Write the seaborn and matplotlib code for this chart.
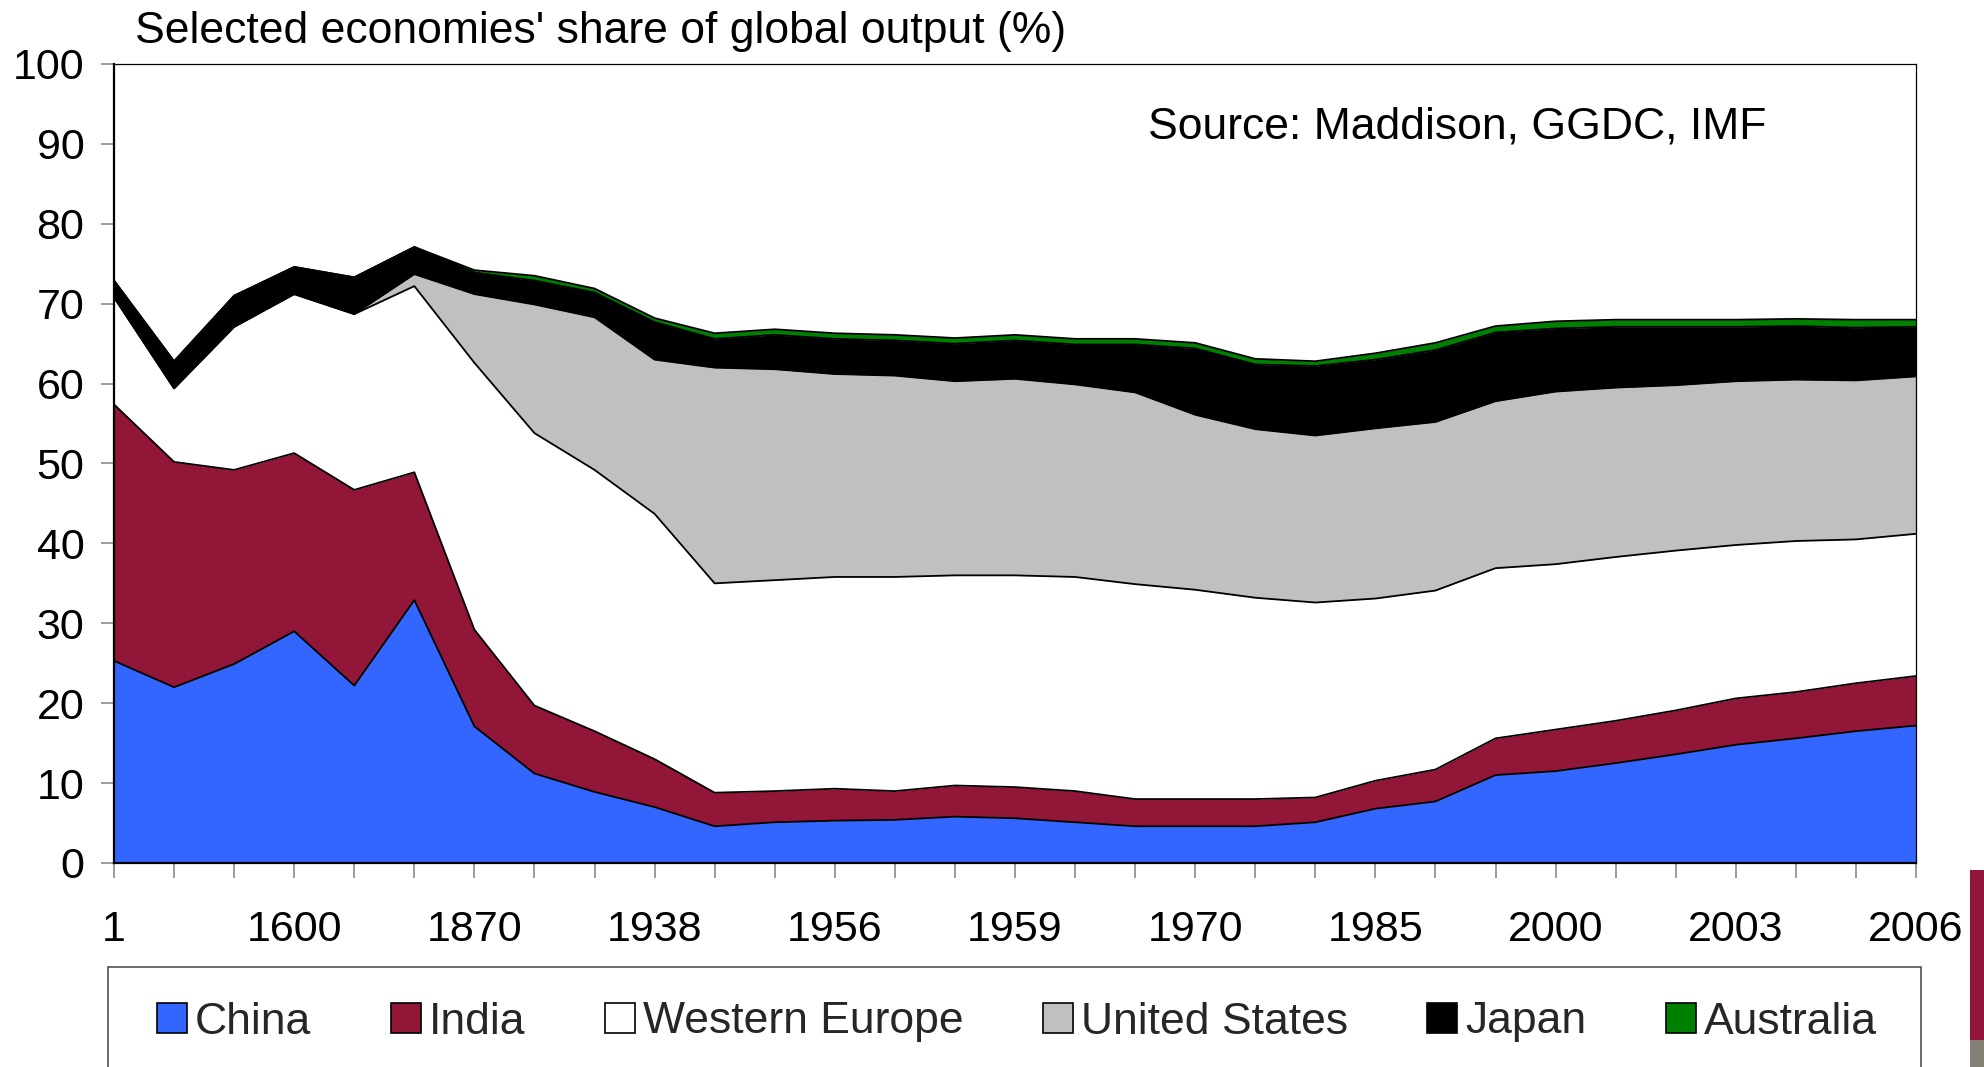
import numpy as np
import pandas as pd
import matplotlib
matplotlib.use("Agg")
import matplotlib.pyplot as plt
from matplotlib.patches import Rectangle, Patch
import seaborn as sns

# ---------------- data ----------------
years = ["1", "1000", "1500", "1600", "1700", "1820", "1870", "1900", "1913", "1938",
         "1950", "1955", "1956", "1957", "1958", "1959", "1960", "1965", "1970", "1975",
         "1980", "1985", "1990", "1995", "2000", "2001", "2002", "2003", "2004", "2005", "2006"]

china = [25.3, 22.0, 24.9, 29.0, 22.2, 32.9, 17.1, 11.2, 8.9, 7.0, 4.6, 5.1, 5.3, 5.4, 5.8,
         5.6, 5.1, 4.6, 4.6, 4.6, 5.1, 6.8, 7.7, 11.0, 11.5, 12.5, 13.6, 14.8, 15.6, 16.5, 17.2]
india = [32.1, 28.2, 24.3, 22.3, 24.5, 16.0, 12.1, 8.5, 7.6, 6.0, 4.2, 3.9, 4.0, 3.6, 3.9,
         3.9, 3.9, 3.4, 3.4, 3.4, 3.1, 3.5, 4.0, 4.6, 5.2, 5.3, 5.5, 5.8, 5.8, 6.0, 6.2]
western_europe = [13.4, 9.2, 17.9, 19.9, 22.0, 23.3, 33.4, 34.1, 32.7, 30.7, 26.2, 26.4, 26.5,
                  26.8, 26.3, 26.5, 26.8, 26.9, 26.2, 25.2, 24.4, 22.8, 22.4, 21.3, 20.7, 20.5,
                  20.0, 19.2, 18.9, 18.0, 17.8]
united_states = [0.0, 0.0, 0.0, 0.0, 0.0, 1.5, 8.6, 16.1, 19.1, 19.3, 27.0, 26.4, 25.4, 25.2,
                 24.3, 24.6, 24.1, 24.0, 21.9, 21.1, 20.9, 21.3, 21.1, 20.9, 21.6, 21.2, 20.7,
                 20.5, 20.2, 19.9, 19.7]
japan = [2.1, 3.4, 3.9, 3.4, 4.6, 3.4, 2.7, 3.0, 3.1, 4.7, 3.6, 4.3, 4.4, 4.4, 4.7, 4.8, 5.0,
         6.0, 8.3, 8.1, 8.7, 8.6, 9.0, 8.6, 7.9, 7.6, 7.3, 6.8, 6.7, 6.6, 6.2]
australia = [0.0, 0.0, 0.0, 0.0, 0.0, 0.0, 0.3, 0.6, 0.5, 0.5, 0.7, 0.7, 0.7, 0.7, 0.7, 0.7,
             0.7, 0.7, 0.7, 0.7, 0.6, 0.8, 0.9, 0.8, 0.9, 0.9, 0.9, 0.9, 0.9, 1.0, 0.9]

series_names = ["China", "India", "Western Europe", "United States", "Japan", "Australia"]
series_colors = ["#3366FF", "#921638", "#FFFFFF", "#C0C0C0", "#000000", "#008000"]

title_text = "Selected economies' share of global output (%)"
source_text = "Source: Maddison, GGDC, IMF"

# ---------------- style ----------------
sns.set_theme(style="white")
plt.rcParams["font.family"] = ["Liberation Sans", "DejaVu Sans"]

W, H = 1984, 1067
fig = plt.figure(figsize=(W / 100, H / 100), dpi=100)
fig.patch.set_facecolor("white")

L, R, T, B = 114, 1916, 64, 863
ax = fig.add_axes([L / W, 1 - B / H, (R - L) / W, (B - T) / H])
ax.set_facecolor("white")

x = np.arange(len(years))
values = [china, india, western_europe, united_states, japan, australia]
ax.stackplot(x, *values, colors=series_colors, linewidth=0, zorder=1)

# boundary lines drawn with seaborn
cum = np.cumsum(np.array(values, dtype=float), axis=0)
for row in cum:
    sns.lineplot(x=x, y=row, color="black", linewidth=1.3, ax=ax, zorder=2,
                 legend=False, estimator=None, sort=False)

ax.set_xlim(0, len(years) - 1)
ax.set_ylim(0, 100)
ax.set_yticks(np.arange(0, 101, 10))
ax.set_xticks(x)
ax.set_xticklabels([y if i % 3 == 0 else "" for i, y in enumerate(years)])
ax.set_xlabel("")
ax.set_ylabel("")

ax.tick_params(axis="x", which="major", direction="out", length=10.8, width=1.1,
               color="#808080", labelsize=31, pad=23, bottom=True)
ax.tick_params(axis="y", which="major", direction="out", length=9.4, width=1.1,
               color="#808080", labelsize=31, pad=12, left=True)
for lab in ax.get_xticklabels() + ax.get_yticklabels():
    lab.set_color("black")

for side in ["left", "bottom"]:
    ax.spines[side].set_color("black")
    ax.spines[side].set_linewidth(1.6)
for side in ["top", "right"]:
    ax.spines[side].set_color("black")
    ax.spines[side].set_linewidth(0.9)
for s in ax.spines.values():
    s.set_zorder(5)

# title and source
fig.text(135 / W, 1 - 43 / H, title_text, fontsize=32, ha="left", va="baseline", color="black")
fig.text(1148 / W, 1 - 138 / H, source_text, fontsize=32, ha="left", va="baseline", color="black")

# legend
handles = [Patch(facecolor=c, edgecolor="black", linewidth=1.2) for c in series_colors]
leg = fig.legend(handles, series_names, loc="center", ncol=6,
                 bbox_to_anchor=(1017 / W, 1 - 1022 / H), frameon=False, fontsize=32,
                 handlelength=0.67, handleheight=0.67, handletextpad=0.18,
                 columnspacing=1.79, borderpad=0, borderaxespad=0)

# legend frame (extends below the figure edge)
fig.patches.append(Rectangle((108 / W, -0.05), (1921 - 108) / W, 0.05 + 1 - 967 / H,
                             transform=fig.transFigure, facecolor="none",
                             edgecolor="#444444", linewidth=1.1, zorder=0))

# slide decoration at right edge
fig.patches.append(Rectangle((1970 / W, 1 - 1040 / H), 14 / W, 170 / H,
                             transform=fig.transFigure, facecolor="#921638",
                             edgecolor="none"))
fig.patches.append(Rectangle((1970 / W, 0), 14 / W, 27 / H,
                             transform=fig.transFigure, facecolor="#858078",
                             edgecolor="none"))

fig.savefig("out.png", dpi=100, facecolor="white")
